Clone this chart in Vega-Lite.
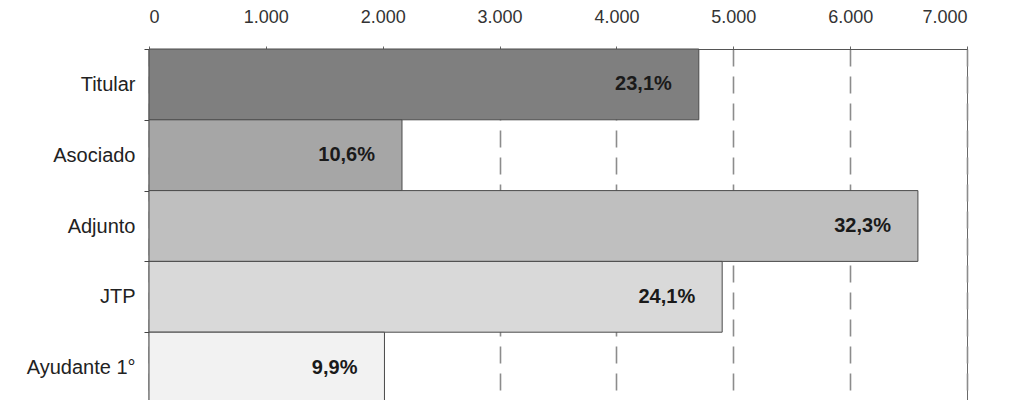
{
  "$schema": "https://vega.github.io/schema/vega-lite/v6.json",
  "autosize": {"type": "none"},
  "padding": {"left": 149, "top": 49, "right": 52, "bottom": 0},
  "width": 818,
  "height": 354,
  "background": "white",
  "config": {
    "view": {"stroke": "#6a6a6a", "strokeWidth": 1},
    "font": "Liberation Sans"
  },
  "data": {
    "values": [
      {"cargo": "Titular", "docentes": 4705, "pct": "23,1%", "orden": 1},
      {"cargo": "Asociado", "docentes": 2165, "pct": "10,6%", "orden": 2},
      {"cargo": "Adjunto", "docentes": 6580, "pct": "32,3%", "orden": 3},
      {"cargo": "JTP", "docentes": 4905, "pct": "24,1%", "orden": 4},
      {"cargo": "Ayudante 1°", "docentes": 2015, "pct": "9,9%", "orden": 5}
    ]
  },
  "encoding": {
    "y": {
      "field": "cargo",
      "type": "nominal",
      "sort": {"field": "orden"},
      "scale": {"paddingInner": 0, "paddingOuter": 0},
      "axis": {
        "title": null,
        "tickBand": "extent",
        "tickSize": 5,
        "tickColor": "#444",
        "labelPadding": 9,
        "labelFontSize": 20,
        "labelColor": "#222",
        "labelFont": "Liberation Sans",
        "domainColor": "#444",
        "domainWidth": 1.5
      }
    },
    "x": {
      "field": "docentes",
      "type": "quantitative",
      "scale": {"domain": [0, 7000], "nice": false},
      "axis": {
        "orient": "top",
        "title": null,
        "values": [0, 1000, 2000, 3000, 4000, 5000, 6000, 7000],
        "labelExpr": "replace(format(datum.value, ','), ',', '.')",
        "labelFontSize": 18,
        "labelColor": "#333",
        "labelFont": "Liberation Sans",
        "labelPadding": 20,
        "tickSize": 3,
        "tickColor": "#666",
        "domainColor": "#555",
        "grid": true,
        "gridColor": "#8c8c8c",
        "gridWidth": 1.6,
        "gridDash": [17, 10]
      }
    }
  },
  "layer": [
    {
      "mark": {"type": "bar", "stroke": "#4a4a4a", "strokeWidth": 1},
      "encoding": {
        "color": {
          "field": "cargo",
          "type": "nominal",
          "legend": null,
          "scale": {
            "domain": ["Titular", "Asociado", "Adjunto", "JTP", "Ayudante 1°"],
            "range": ["#7f7f7f", "#a6a6a6", "#bfbfbf", "#d9d9d9", "#f2f2f2"]
          }
        }
      }
    },
    {
      "mark": {
        "type": "text",
        "align": "right",
        "baseline": "middle",
        "dx": -27,
        "fontSize": 20,
        "fontWeight": "bold",
        "font": "Liberation Sans",
        "color": "#1a1a1a"
      },
      "encoding": {"text": {"field": "pct"}}
    }
  ]
}
